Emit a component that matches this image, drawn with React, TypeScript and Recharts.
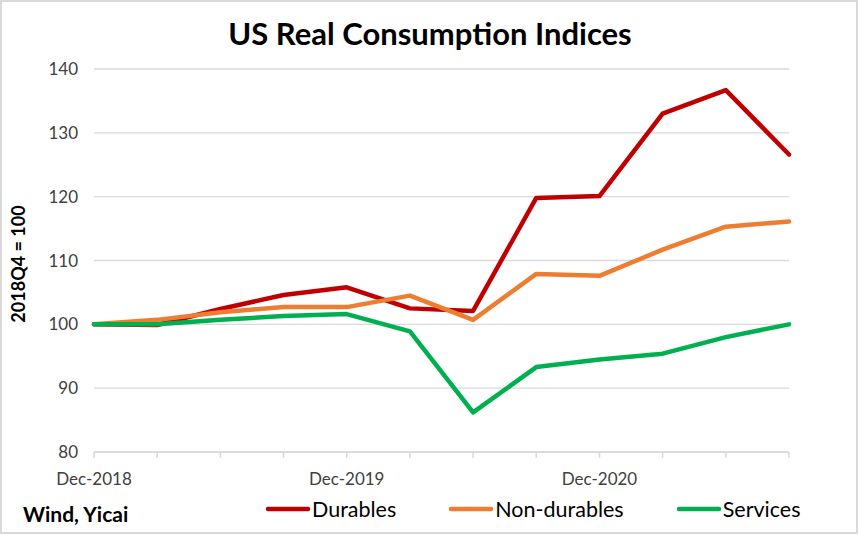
import { LineChart, Line, XAxis, YAxis, CartesianGrid } from 'recharts';

const quarters = [
  'Dec-2018', 'Mar-2019', 'Jun-2019', 'Sep-2019', 'Dec-2019', 'Mar-2020',
  'Jun-2020', 'Sep-2020', 'Dec-2020', 'Mar-2021', 'Jun-2021', 'Sep-2021',
];
const durables = [100, 99.9, 102.4, 104.6, 105.8, 102.5, 102.1, 119.8, 120.1, 133.0, 136.7, 126.6];
const nonDurables = [100, 100.7, 101.9, 102.7, 102.7, 104.5, 100.7, 107.9, 107.6, 111.7, 115.3, 116.1];
const services = [100, 100, 100.7, 101.3, 101.6, 98.9, 86.2, 93.3, 94.5, 95.4, 98.0, 100];
const yTicks = [80, 90, 100, 110, 120, 130, 140];
const xLabels = ['Dec-2018', 'Dec-2019', 'Dec-2020'];

const seriesList = [
  { key: 'durables', name: 'Durables', color: '#c00000' },
  { key: 'nonDurables', name: 'Non-durables', color: '#ed7d31' },
  { key: 'services', name: 'Services', color: '#00b050' },
];

const data = quarters.map((q, i) => ({
  quarter: q,
  durables: durables[i],
  nonDurables: nonDurables[i],
  services: services[i],
}));

const FONT = 'Lato, "Open Sans", sans-serif';

export default function App() {
  return (
    <div style={{ position: 'absolute', left: 0, top: 0, width: 860, height: 535, background: '#fff' }}>
      <div
        style={{
          position: 'absolute', left: 0, top: 0, width: 858, height: 534,
          border: '2px solid #d9d9d9', boxSizing: 'border-box',
        }}
      />
      <LineChart
        width={860}
        height={535}
        data={data}
        margin={{ top: 69, right: 71, left: 34, bottom: 53 }}
        style={{ position: 'absolute', left: 0, top: 0 }}
      >
        <CartesianGrid vertical={false} stroke="#d9d9d9" strokeWidth={1.3} />
        <XAxis
          dataKey="quarter"
          interval={0}
          height={30}
          tickFormatter={(v: string) => (xLabels.includes(v) ? v : '')}
          stroke="#d9d9d9"
          strokeWidth={1.5}
          tickSize={6}
          tickMargin={15}
          tick={{ fontFamily: FONT, fontSize: 17, fill: '#404040' }}
        />
        <YAxis
          domain={[80, 140]}
          ticks={yTicks}
          width={60}
          axisLine={false}
          tickLine={false}
          tickSize={14}
          tickMargin={2}
          tick={{ fontFamily: FONT, fontSize: 17, fill: '#404040' }}
        />
        {seriesList.map((s) => (
          <Line
            key={s.key}
            type="linear"
            dataKey={s.key}
            name={s.name}
            stroke={s.color}
            strokeWidth={4.5}
            strokeLinejoin="round"
            strokeLinecap="round"
            dot={false}
            activeDot={false}
            isAnimationActive={false}
          />
        ))}
      </LineChart>
      <div
        style={{
          position: 'absolute', left: 0, top: 14, width: 860, textAlign: 'center',
          fontFamily: FONT, fontWeight: 700, fontSize: 31, color: '#000',
        }}
      >
        US Real Consumption Indices
      </div>
      <div
        style={{
          position: 'absolute', left: 18, top: 264, transform: 'translate(-50%, -50%) rotate(-90deg)',
          whiteSpace: 'nowrap', fontFamily: FONT, fontWeight: 700, fontSize: 18, color: '#000',
        }}
      >
        2018Q4 = 100
      </div>
      <div
        style={{
          position: 'absolute', left: 23, top: 501, fontFamily: FONT, fontWeight: 700,
          fontSize: 21, color: '#000',
        }}
      >
        Wind, Yicai
      </div>
      <div
        style={{
          position: 'absolute', left: 265, top: 496, display: 'flex', gap: 52,
          fontFamily: FONT, fontSize: 21.5, color: '#000',
        }}
      >
        {seriesList.map((s) => (
          <div key={s.key} style={{ display: 'flex', alignItems: 'center' }}>
            <svg width={46} height={10}>
              <line x1={3} y1={5} x2={43} y2={5} stroke={s.color} strokeWidth={4.5} strokeLinecap="round" />
            </svg>
            <span style={{ marginLeft: 1 }}>{s.name}</span>
          </div>
        ))}
      </div>
    </div>
  );
}
